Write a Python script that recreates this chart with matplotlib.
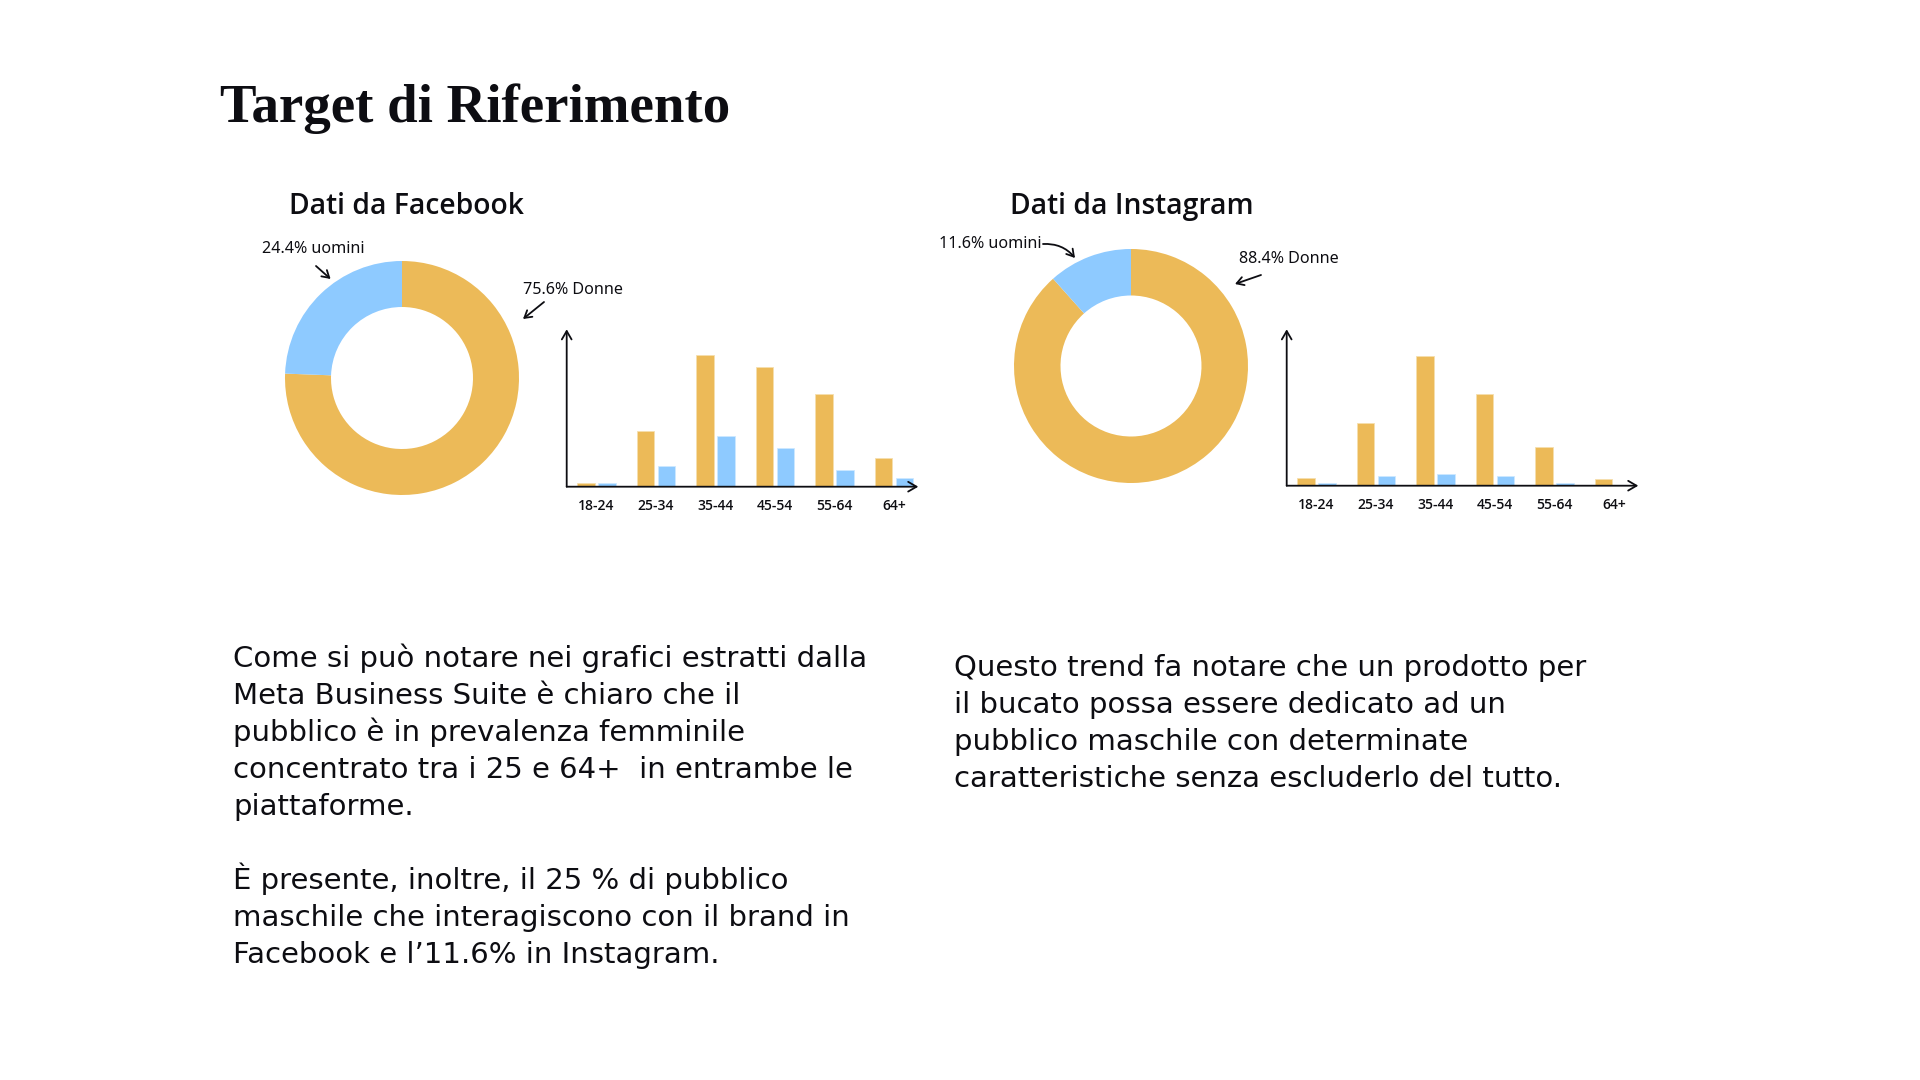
import numpy as np
import matplotlib
matplotlib.use('Agg')
import matplotlib.pyplot as plt

# dati (percentuali)
fasce = ['18-24', '25-34', '35-44', '45-54', '55-64', '64+']
fb_donne = [0.6, 9.8, 23.0, 21.0, 16.2, 5.0]
fb_uomini = [0.6, 3.6, 8.9, 6.8, 3.0, 1.5]
ig_donne = [2.0, 16.7, 34.7, 24.5, 10.3, 1.8]
ig_uomini = [0.7, 2.6, 3.1, 2.6, 0.7, 0.3]
fb_genere = [75.6, 24.4]   # donne, uomini
ig_genere = [88.4, 11.6]

GIALLO = '#ECBA58'
AZZURRO = '#8ECAFF'
NERO = '#0d0d12'

W, H = 1920, 1080
fig = plt.figure(figsize=(W / 100, H / 100), dpi=100)
fig.patch.set_facecolor('white')


def px_axes(x0, y0, x1, y1):
    # rettangolo in pixel (origine in alto a sinistra)
    return fig.add_axes([x0 / W, 1 - y1 / H, (x1 - x0) / W, (y1 - y0) / H])


def donut(cx, cy, r, r_in, valori):
    ax = px_axes(cx - r, cy - r, cx + r, cy + r)
    ax.pie(valori, colors=[GIALLO, AZZURRO], startangle=90, counterclock=False,
           radius=1, wedgeprops=dict(width=1 - r_in / r, linewidth=0))
    ax.set_xlim(-1, 1)
    ax.set_ylim(-1, 1)
    ax.set_aspect('equal')
    ax.axis('off')


def barre(x0, y_top, x1, y_base, donne, uomini, ytop):
    ax = px_axes(x0, y_top, x1, y_base)
    x = np.arange(len(fasce))
    ax.bar(x - 0.175, donne, 0.29, color=GIALLO, edgecolor='#F6DFAE', linewidth=0.6)
    ax.bar(x + 0.175, uomini, 0.29, color=AZZURRO, edgecolor='#CDE8FF', linewidth=0.6)
    ax.set_xlim(-0.501, 5.409)
    ax.set_ylim(0, ytop)
    for s in ax.spines.values():
        s.set_visible(False)
    ax.set_yticks([])
    ax.set_xticks(x)
    ax.set_xticklabels(fasce, fontsize=10, fontfamily='Open Sans', fontweight='semibold', color=NERO)
    ax.tick_params(axis='x', length=0, pad=9)
    ax.patch.set_alpha(0)
    frecce = dict(arrowstyle='->,head_length=0.6,head_width=0.35', lw=1.3, color=NERO,
                  shrinkA=0, shrinkB=0)
    ax.annotate('', xy=(1, 0), xytext=(0, 0), xycoords='axes fraction', arrowprops=frecce, annotation_clip=False)
    ax.annotate('', xy=(0, 1), xytext=(0, 0), xycoords='axes fraction', arrowprops=frecce, annotation_clip=False)


donut(402, 378, 117, 71, fb_genere)
donut(1131, 366, 117, 70.5, ig_genere)
barre(566.7, 329.3, 918.3, 486.7, fb_donne, fb_uomini, 27.55)
barre(1286.7, 329.3, 1638.3, 485.7, ig_donne, ig_uomini, 41.7)

# livello dei testi in pixel
ov = fig.add_axes([0, 0, 1, 1])
ov.set_xlim(0, W)
ov.set_ylim(H, 0)
ov.axis('off')

ov.text(220, 122, 'Target di Riferimento', fontsize=39.5, fontfamily='Liberation Serif',
        fontweight='bold', color=NERO, va='baseline')
ov.text(289, 214, 'Dati da Facebook', fontsize=20.3, fontfamily='Open Sans',
        fontweight='semibold', color=NERO, va='baseline')
ov.text(1010, 214, 'Dati da Instagram', fontsize=20.3, fontfamily='Open Sans',
        fontweight='semibold', color=NERO, va='baseline')

mano = dict(fontsize=11.6, fontfamily='Noto Sans', color=NERO, va='baseline')
freccia = dict(arrowstyle='->,head_length=0.5,head_width=0.3', lw=1.3, color=NERO,
               shrinkA=0, shrinkB=0)
ov.text(262, 253, '24.4% uomini', **mano)
ov.annotate('', xy=(330.6, 279), xytext=(316, 266), arrowprops=freccia)
ov.text(523, 294, '75.6% Donne', **mano)
ov.annotate('', xy=(523, 319), xytext=(544, 302), arrowprops=freccia)
ov.text(939, 248, '11.6% uomini', **mano)
ov.annotate('', xy=(1075, 258), xytext=(1043, 244),
            arrowprops=dict(freccia, connectionstyle='arc3,rad=-0.25'))
ov.text(1239, 263, '88.4% Donne', **mano)
ov.annotate('', xy=(1235, 284), xytext=(1261, 275), arrowprops=freccia)

testo = dict(fontsize=21, fontfamily='DejaVu Sans', color=NERO, va='baseline')
par1 = ['Come si può notare nei grafici estratti dalla',
        'Meta Business Suite è chiaro che il',
        'pubblico è in prevalenza femminile',
        'concentrato tra i 25 e 64+  in entrambe le',
        'piattaforme.']
par2 = ['È presente, inoltre, il 25 % di pubblico',
        'maschile che interagiscono con il brand in',
        'Facebook e l’11.6% in Instagram.']
par3 = ['Questo trend fa notare che un prodotto per',
        'il bucato possa essere dedicato ad un',
        'pubblico maschile con determinate',
        'caratteristiche senza escluderlo del tutto.']
for i, riga in enumerate(par1):
    ov.text(233, 667 + i * 37, riga, **testo)
for i, riga in enumerate(par2):
    ov.text(233, 889 + i * 37, riga, **testo)
for i, riga in enumerate(par3):
    ov.text(954, 676 + i * 37, riga, **testo)

fig.savefig('out.png', dpi=100, facecolor='white')
